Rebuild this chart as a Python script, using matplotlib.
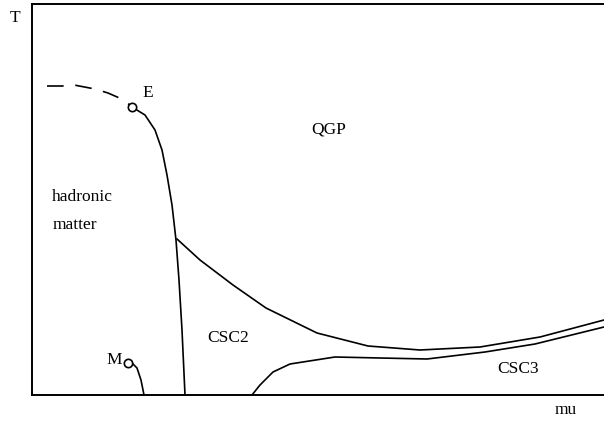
import matplotlib.pyplot as plt

# phase diagram curves (mu, T in arbitrary units)
dash_mu = [15, 30, 42, 63, 76, 92, 100]
dash_T = [309, 309, 310, 306, 302, 295, 288]

crit_mu = [100, 113, 123, 130, 135, 140, 144, 147, 150, 153]
crit_T = [288, 280, 265, 245, 220, 190, 155, 115, 65, 0]

upper_mu = [145, 168, 201, 234, 285, 336, 388, 448, 508, 572, 592]
upper_T = [156, 135, 110, 87, 62, 49, 45, 48, 58, 75, 81]

lower_mu = [220, 228, 241, 258, 303, 348, 395, 453, 503, 572, 592]
lower_T = [0, 10, 23, 31, 38, 37, 36, 43, 51, 68, 74]

m_mu = [96, 99, 105, 109, 112]
m_T = [33, 33, 27, 15, 0]

E_pt = (100, 288)
M_pt = (96, 32)

fig = plt.figure(figsize=(6.04, 4.28), dpi=100)
ax = fig.add_axes([32 / 604, 33 / 428, 1 - 32 / 604, (395 - 4) / 428])
ax.set_xlim(0, 572)
ax.set_ylim(0, 391)

lw = 1.2
ax.plot(dash_mu, dash_T, color='black', lw=lw, dashes=(10, 7))
ax.plot(crit_mu, crit_T, color='black', lw=lw)
ax.plot(upper_mu, upper_T, color='black', lw=lw)
ax.plot(lower_mu, lower_T, color='black', lw=lw)
ax.plot(m_mu, m_T, color='black', lw=lw)
ax.plot(*E_pt, 'o', ms=6, mfc='white', mec='black', mew=1.2)
ax.plot(*M_pt, 'o', ms=6, mfc='white', mec='black', mew=1.2)

font = dict(family='Liberation Serif', fontsize=12.5, color='black')
ax.text(110, 302, 'E', ha='left', va='center', **font)
ax.text(90, 35, 'M', ha='right', va='center', **font)
ax.text(297, 265, 'QGP', ha='center', va='center', **font)
ax.text(50, 198, 'hadronic', ha='center', va='center', **font)
ax.text(43, 170, 'matter', ha='center', va='center', **font)
ax.text(196, 57, 'CSC2', ha='center', va='center', **font)
ax.text(486, 26, 'CSC3', ha='center', va='center', **font)

fig.text(15 / 604, 1 - 18 / 428, 'T', ha='center', va='center', **font)
fig.text(566 / 604, 1 - 410 / 428, 'mu', ha='center', va='center', **font)

ax.spines['right'].set_visible(False)
for s in ['left', 'top', 'bottom']:
    ax.spines[s].set_linewidth(1.4)
ax.set_xticks([])
ax.set_yticks([])

fig.savefig('out.png', dpi=100)
